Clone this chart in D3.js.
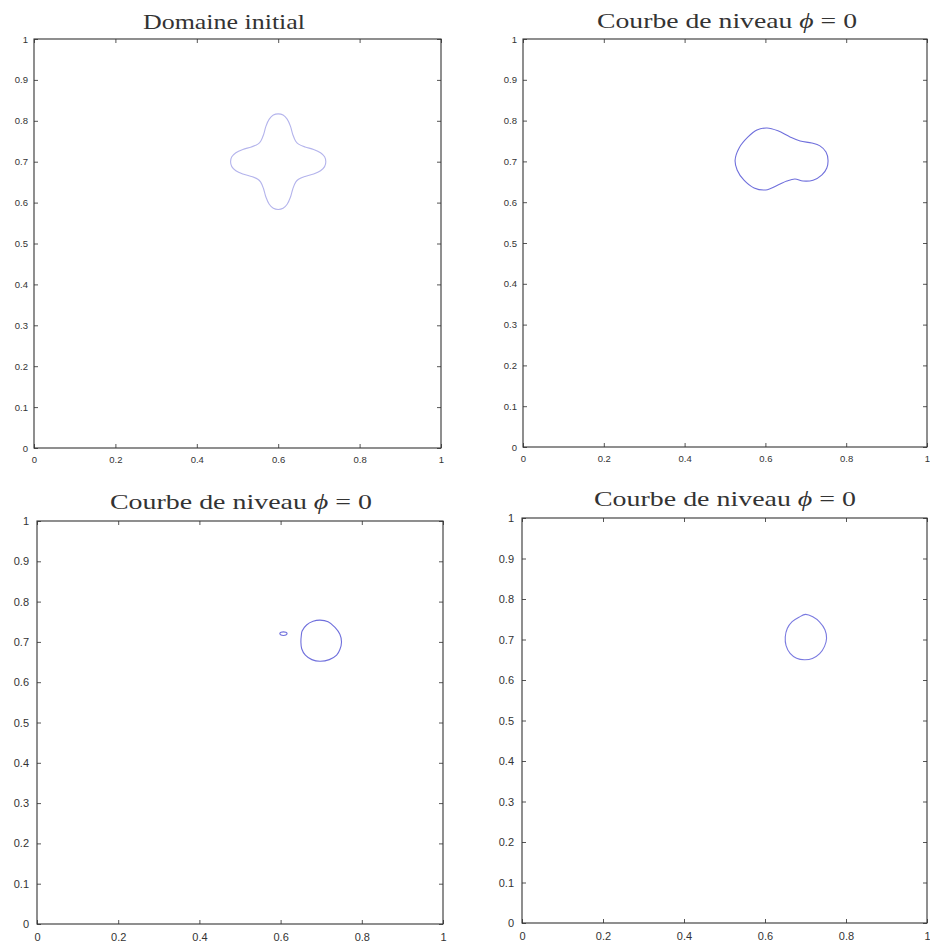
<!DOCTYPE html>
<html><head><meta charset="utf-8">
<script src="https://cdn.jsdelivr.net/npm/d3@7"></script>
<style>body{margin:0;background:#fff}svg{display:block}</style>
</head><body>
<script>
// ---- data ----
const xTickValues = [0, 0.2, 0.4, 0.6, 0.8, 1];
const xTickLabels = ["0", "0.2", "0.4", "0.6", "0.8", "1"];
const yTickValues = [0, 0.1, 0.2, 0.3, 0.4, 0.5, 0.6, 0.7, 0.8, 0.9, 1];
const yTickLabels = ["0", "0.1", "0.2", "0.3", "0.4", "0.5", "0.6", "0.7", "0.8", "0.9", "1"];
const titles = ["Domaine initial", "Courbe de niveau", "Courbe de niveau", "Courbe de niveau"];

// initial four-lobed domain
const contourInitial = [
 [0.600,0.817],[0.612,0.814],[0.622,0.804],[0.630,0.787],[0.636,0.766],[0.643,0.750],[0.650,0.743],[0.666,0.736],[0.687,0.730],[0.704,0.722],[0.714,0.712],[0.717,0.700],
 [0.714,0.688],[0.704,0.678],[0.687,0.670],[0.666,0.664],[0.650,0.657],[0.643,0.650],[0.636,0.634],[0.630,0.613],[0.622,0.596],[0.612,0.586],[0.600,0.583],
 [0.588,0.586],[0.578,0.596],[0.570,0.613],[0.564,0.634],[0.557,0.650],[0.550,0.657],[0.534,0.664],[0.513,0.670],[0.496,0.678],[0.486,0.688],[0.483,0.700],
 [0.486,0.712],[0.496,0.722],[0.513,0.730],[0.534,0.736],[0.550,0.743],[0.557,0.750],[0.564,0.766],[0.570,0.787],[0.578,0.804],[0.588,0.814]
];
// level set phi = 0, stage 2
const contourStage2 = [
 [0.525,0.703],[0.535,0.733],[0.557,0.760],[0.579,0.777],[0.604,0.782],[0.631,0.775],[0.661,0.760],[0.686,0.750],[0.715,0.745],[0.735,0.738],
 [0.750,0.723],[0.755,0.703],[0.752,0.684],[0.740,0.667],[0.718,0.654],[0.693,0.652],[0.673,0.657],[0.653,0.652],[0.631,0.642],[0.601,0.630],
 [0.572,0.635],[0.547,0.654],[0.530,0.679]
];
// stage 3: main circle + small droplet
const contourStage3 = [
 [0.697,0.754],[0.717,0.750],[0.734,0.736],[0.746,0.719],[0.750,0.700],[0.746,0.681],[0.738,0.667],[0.720,0.656],[0.697,0.652],
 [0.677,0.656],[0.661,0.667],[0.652,0.683],[0.650,0.700],[0.651,0.716],[0.653,0.727],[0.664,0.742],[0.680,0.751]
];
const contourStage3b = [
 [0.607,0.725],[0.613,0.724],[0.616,0.721],[0.613,0.717],[0.607,0.716],[0.601,0.717],[0.598,0.721],[0.601,0.724]
];
// stage 4: single circle
const contourStage4 = [
 [0.700,0.762],[0.718,0.756],[0.735,0.743],[0.748,0.724],[0.752,0.703],[0.747,0.683],[0.735,0.665],[0.717,0.653],[0.697,0.650],
 [0.678,0.654],[0.662,0.666],[0.652,0.685],[0.650,0.706],[0.655,0.727],[0.667,0.744],[0.684,0.755]
];

// ---- layout ----
const W = 930, H = 947;
const svg = d3.select("body").append("svg").attr("width", W).attr("height", H);

const panels = [
  {x0:34, x1:441, y0:39, y1:448, fs:9.5, ty:29, tx:224, tw:162, curves:[contourInitial], color:"#b4b4ec", phi:false},
  {x0:523, x1:927, y0:39, y1:447, fs:9.5, ty:28, tx:727, tw:260, curves:[contourStage2], color:"#6f6fdc", phi:true},
  {x0:37, x1:443, y0:521, y1:924, fs:11, ty:509, tx:241, tw:262, curves:[contourStage3, contourStage3b], color:"#6f6fdc", phi:true},
  {x0:522, x1:927, y0:518, y1:923, fs:11, ty:506, tx:725, tw:262, curves:[contourStage4], color:"#7a7ae0", phi:true}
];

panels.forEach((p, i) => {
  const x = d3.scaleLinear().domain([0, 1]).range([p.x0, p.x1]);
  const y = d3.scaleLinear().domain([0, 1]).range([p.y1, p.y0]);
  const g = svg.append("g");

  const styleAxis = sel => {
    sel.select(".domain").remove();
    sel.selectAll("line").attr("stroke", "#555");
    sel.selectAll("text").attr("fill", "#333").style("font-family", "'Liberation Sans', Arial, sans-serif").style("font-size", p.fs + "px");
  };

  g.append("g").attr("transform", `translate(0,${p.y1})`)
    .call(d3.axisBottom(x).tickValues(xTickValues).tickFormat((d, k) => xTickLabels[k]).tickSize(-4).tickPadding(p.fs > 10 ? 9 : 8))
    .call(styleAxis);
  g.append("g").attr("transform", `translate(0,${p.y0})`)
    .call(d3.axisTop(x).tickValues(xTickValues).tickFormat("").tickSize(-4))
    .call(styleAxis);
  g.append("g").attr("transform", `translate(${p.x0},0)`)
    .call(d3.axisLeft(y).tickValues(yTickValues).tickFormat((d, k) => yTickLabels[k]).tickSize(-4).tickPadding(p.fs > 10 ? 8 : 6))
    .call(styleAxis);
  g.append("g").attr("transform", `translate(${p.x1},0)`)
    .call(d3.axisRight(y).tickValues(yTickValues).tickFormat("").tickSize(-4))
    .call(styleAxis);

  g.append("rect").attr("x", p.x0).attr("y", p.y0).attr("width", p.x1 - p.x0).attr("height", p.y1 - p.y0)
    .attr("fill", "none").attr("stroke", "#333").attr("stroke-width", 1.1);

  const line = d3.line().x(d => x(d[0])).y(d => y(d[1])).curve(d3.curveCatmullRomClosed.alpha(0.5));
  p.curves.forEach(c => {
    g.append("path").attr("d", line(c)).attr("fill", "none").attr("stroke", p.color).attr("stroke-width", 1.1);
  });

  const t = g.append("text").attr("x", p.tx).attr("y", p.ty).attr("text-anchor", "middle")
    .attr("textLength", p.tw).attr("lengthAdjust", "spacingAndGlyphs")
    .style("font-family", "'Liberation Serif', 'DejaVu Serif', serif").style("font-size", "22px").attr("fill", "#333");
  t.append("tspan").text(titles[i]);
  if (p.phi) {
    t.append("tspan").text(" ");
    t.append("tspan").style("font-style", "italic").text("\u03d5");
    t.append("tspan").text(" = 0");
  }
});
</script>
</body></html>
